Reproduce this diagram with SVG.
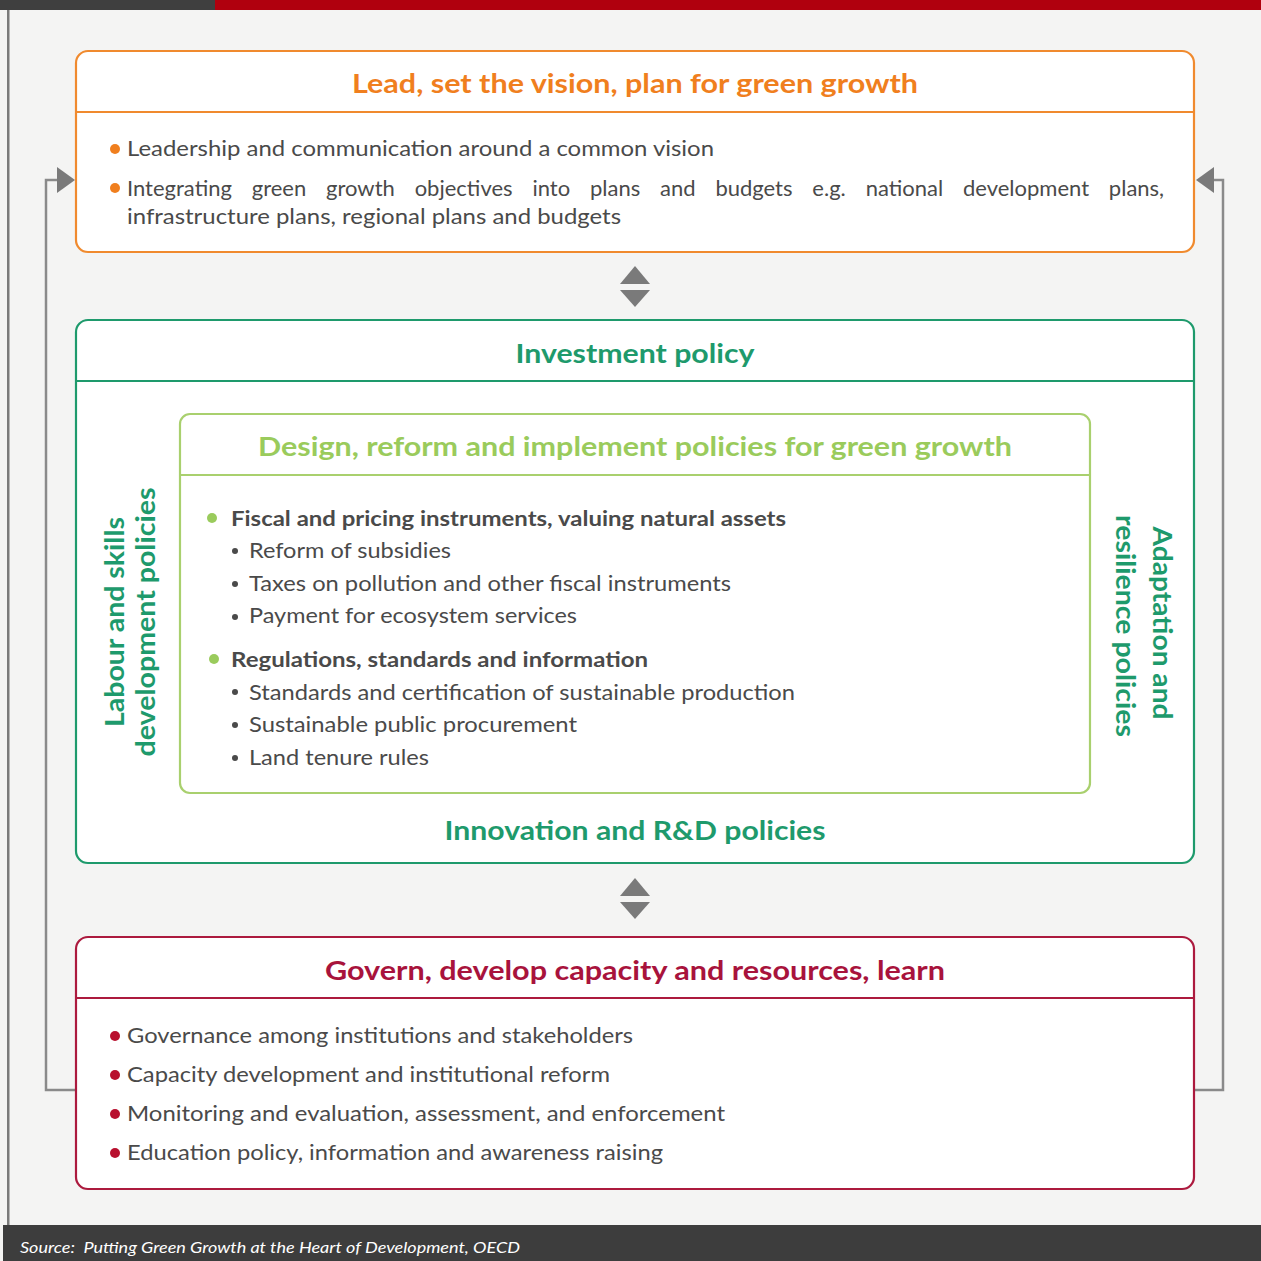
<svg xmlns="http://www.w3.org/2000/svg" width="1261" height="1261" viewBox="0 0 1261 1261">
<defs>
<style>
text{font-family:"Lato","Open Sans","Liberation Sans",sans-serif;}
.t{font-size:27px;font-weight:bold;text-anchor:middle;}
.b{font-size:22px;fill:#4a4a4a;}
.i{font-size:21px;fill:#4a4a4a;}
.ib{font-size:21px;fill:#4a4a4a;font-weight:bold;}
.v{font-size:27px;font-weight:bold;fill:#1e9a6c;text-anchor:middle;}
.box{fill:#fff;stroke-width:2.2;}
.conn{fill:none;stroke:#8a8a8a;stroke-width:2.5;}
.tri{fill:#7a7a7a;}
</style>
</defs>
<rect x="0" y="0" width="1261" height="1261" fill="#f4f4f3"/>
<rect x="0" y="0" width="215" height="10" fill="#3f3f3f"/>
<rect x="215" y="0" width="1046" height="10" fill="#b0000e"/>
<rect x="7" y="10" width="2.5" height="1215" fill="#7a7a7a"/>

<g id="connectors">
<path class="conn" d="M76,1090 H46 V180 H60"/>
<polygon class="tri" points="57,167 75,180 57,193"/>
<path class="conn" d="M1194,1090 H1223 V180 H1212"/>
<polygon class="tri" points="1214,167 1196,180 1214,193"/>
<polygon class="tri" points="620,284 635,266 650,284"/>
<polygon class="tri" points="620,290 635,307 650,290"/>
<polygon class="tri" points="620,896 635,878 650,896"/>
<polygon class="tri" points="620,902 635,919 650,902"/>
</g>

<g id="lead">
<rect class="box" x="76" y="51" width="1118" height="201" rx="12" stroke="#f08a2e"/>
<line x1="77" y1="112" x2="1193" y2="112" stroke="#f08a2e" stroke-width="2"/>
<text class="t" x="635" y="93" fill="#f07f1e" textLength="566" lengthAdjust="spacingAndGlyphs">Lead, set the vision, plan for green growth</text>
<circle cx="115" cy="149" r="5" fill="#f07f1e"/>
<circle cx="115" cy="188" r="5" fill="#f07f1e"/>
<text class="b" x="127" y="156" textLength="587" lengthAdjust="spacingAndGlyphs">Leadership and communication around a common vision</text>
<text class="b" x="127" y="196" word-spacing="14.2">Integrating green growth objectives into plans and budgets e.g. national development plans,</text>
<text class="b" x="127" y="224" textLength="494" lengthAdjust="spacingAndGlyphs">infrastructure plans, regional plans and budgets</text>
</g>

<g id="investment">
<rect class="box" x="76" y="320" width="1118" height="543" rx="12" stroke="#1e9a6c"/>
<line x1="77" y1="381" x2="1193" y2="381" stroke="#1e9a6c" stroke-width="2"/>
<text class="t" x="635" y="363" fill="#1e9a6c" textLength="239" lengthAdjust="spacingAndGlyphs">Investment policy</text>
<text class="t" x="635" y="840" fill="#1e9a6c" textLength="381" lengthAdjust="spacingAndGlyphs">Innovation and R&amp;D policies</text>
<text class="v" transform="translate(124,622) rotate(-90)" textLength="210" lengthAdjust="spacingAndGlyphs">Labour and skills</text>
<text class="v" transform="translate(155,622) rotate(-90)" textLength="269" lengthAdjust="spacingAndGlyphs">development policies</text>
<text class="v" transform="translate(1153,623) rotate(90)" textLength="193" lengthAdjust="spacingAndGlyphs">Adaptation and</text>
<text class="v" transform="translate(1116,626) rotate(90)" textLength="222" lengthAdjust="spacingAndGlyphs">resilience policies</text>
</g>

<g id="design">
<rect class="box" x="180" y="414" width="910" height="379" rx="10" stroke="#a9d06e"/>
<line x1="181" y1="475" x2="1089" y2="475" stroke="#a9d06e" stroke-width="2"/>
<text class="t" x="635" y="456" fill="#9acb5c" textLength="754" lengthAdjust="spacingAndGlyphs">Design, reform and implement policies for green growth</text>
<circle cx="212" cy="518" r="5" fill="#9acb5c"/>
<circle cx="214" cy="659" r="5" fill="#9acb5c"/>
<text class="ib" x="231" y="526" textLength="555" lengthAdjust="spacingAndGlyphs">Fiscal and pricing instruments, valuing natural assets</text>
<circle cx="235" cy="551" r="3" fill="#4a4a4a"/>
<circle cx="235" cy="584" r="3" fill="#4a4a4a"/>
<circle cx="235" cy="617" r="3" fill="#4a4a4a"/>
<text class="i" x="249" y="558" textLength="202" lengthAdjust="spacingAndGlyphs">Reform of subsidies</text>
<text class="i" x="249" y="591" textLength="482" lengthAdjust="spacingAndGlyphs">Taxes on pollution and other fiscal instruments</text>
<text class="i" x="249" y="623" textLength="328" lengthAdjust="spacingAndGlyphs">Payment for ecosystem services</text>
<text class="ib" x="231" y="667" textLength="417" lengthAdjust="spacingAndGlyphs">Regulations, standards and information</text>
<circle cx="235" cy="692" r="3" fill="#4a4a4a"/>
<circle cx="235" cy="725" r="3" fill="#4a4a4a"/>
<circle cx="235" cy="758" r="3" fill="#4a4a4a"/>
<text class="i" x="249" y="700" textLength="546" lengthAdjust="spacingAndGlyphs">Standards and certification of sustainable production</text>
<text class="i" x="249" y="732" textLength="328" lengthAdjust="spacingAndGlyphs">Sustainable public procurement</text>
<text class="i" x="249" y="765" textLength="180" lengthAdjust="spacingAndGlyphs">Land tenure rules</text>
</g>

<g id="govern">
<rect class="box" x="76" y="937" width="1118" height="252" rx="12" stroke="#ac1a3e"/>
<line x1="77" y1="998" x2="1193" y2="998" stroke="#ac1a3e" stroke-width="2"/>
<text class="t" x="635" y="980" fill="#a8133c" textLength="620" lengthAdjust="spacingAndGlyphs">Govern, develop capacity and resources, learn</text>
<circle cx="115" cy="1036" r="5" fill="#b8102e"/>
<circle cx="115" cy="1075" r="5" fill="#b8102e"/>
<circle cx="115" cy="1114" r="5" fill="#b8102e"/>
<circle cx="115" cy="1153" r="5" fill="#b8102e"/>
<text class="b" x="127" y="1043" textLength="506" lengthAdjust="spacingAndGlyphs">Governance among institutions and stakeholders</text>
<text class="b" x="127" y="1082" textLength="483" lengthAdjust="spacingAndGlyphs">Capacity development and institutional reform</text>
<text class="b" x="127" y="1121" textLength="598" lengthAdjust="spacingAndGlyphs">Monitoring and evaluation, assessment, and enforcement</text>
<text class="b" x="127" y="1160" textLength="536" lengthAdjust="spacingAndGlyphs">Education policy, information and awareness raising</text>
</g>

<rect x="3" y="1225" width="1258" height="36" fill="#3d3d3d"/>
<text x="20" y="1253" font-size="16" font-style="italic" fill="#ffffff" textLength="500" lengthAdjust="spacingAndGlyphs" xml:space="preserve">Source:  Putting Green Growth at the Heart of Development, OECD</text>
</svg>
